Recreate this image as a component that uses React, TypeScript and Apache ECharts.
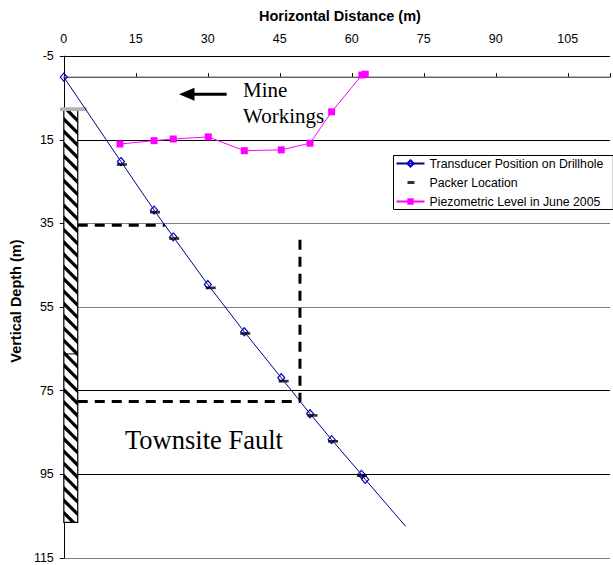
import React, { useEffect, useRef } from 'react';
import * as echarts from 'echarts';

const SANS = 'Arial, "Liberation Sans", sans-serif';
const SERIF = '"Times New Roman", "Liberation Serif", serif';

// ---- data ----
const transducerX = [0, 11.9, 18.8, 22.8, 30.0, 37.6, 45.3, 51.3, 55.8, 62.0, 62.8, 71.2];
const transducerDepth = [0, 20.2, 31.8, 38.2, 49.6, 60.9, 71.9, 80.5, 86.7, 95.0, 96.2, 107.4];

const packerX = [12.1, 19.0, 23.0, 30.6, 37.8, 45.8, 51.8, 56.1, 62.1];
const packerDepth = [20.9, 32.3, 38.6, 50.4, 61.3, 72.7, 80.9, 87.1, 95.3];

const piezoX = [11.7, 18.8, 22.8, 30.1, 37.6, 45.3, 51.3, 55.8, 62.1, 62.8];
const piezoDepth = [16.0, 15.2, 14.8, 14.3, 17.6, 17.4, 15.8, 8.3, -0.5, -0.7];

const xMin = 0, xMax = 113.8, xStep = 15;
const yMin = -5, yMax = 115, yStep = 20;

const groundX = [xMin, xMax];
const groundDepth = [0, 0];

const faultUpperX = [2.9, 21.05];
const faultUpperDepth = [35.4, 35.4];
const faultLowerX = [2.9, 49.2, 49.2];
const faultLowerDepth = [77.6, 77.6, 37.3];

const casingX = [0, 2.9];
const casingDepth = [7.65, 106.5];
const casingJointDepth = 66.2;
const capX = [-0.8, 4.8];

const NAME_T = 'Transducer Position on Drillhole';
const NAME_P = 'Packer Location';
const NAME_Z = 'Piezometric Level in June 2005';

const zip = (xs: number[], ys: number[]) => xs.map((x, i) => [x, ys[i]]);

function clipPoly(pts: number[][], xmin: number, xmax: number, ymin: number, ymax: number) {
  const planes: [number, number, number][] = [
    [0, xmin, 1], [0, xmax, -1], [1, ymin, 1], [1, ymax, -1],
  ];
  let out = pts;
  for (const [k, v, s] of planes) {
    const inp = out;
    out = [];
    if (!inp.length) break;
    for (let i = 0; i < inp.length; i++) {
      const a = inp[i];
      const b = inp[(i + 1) % inp.length];
      const ain = s * (a[k] - v) >= 0;
      const bin = s * (b[k] - v) >= 0;
      if (ain) out.push(a);
      if (ain !== bin) {
        const t = (v - a[k]) / (b[k] - a[k]);
        out.push([a[0] + t * (b[0] - a[0]), a[1] + t * (b[1] - a[1])]);
      }
    }
  }
  return out;
}

const packerIcon =
  'image://data:image/svg+xml;charset=utf-8,' +
  encodeURIComponent(
    '<svg xmlns="http://www.w3.org/2000/svg" width="28" height="8" viewBox="0 0 28 8"><rect x="11" y="2.5" width="7" height="3" fill="#000"/></svg>'
  );

export default function App() {
  const ref = useRef<HTMLDivElement>(null);

  useEffect(() => {
    if (!ref.current) return;
    const chart = echarts.init(ref.current, undefined, { renderer: 'svg' });

    const renderCasing = (params: any, api: any) => {
      const tl = api.coord([casingX[0], casingDepth[0]]);
      const br = api.coord([casingX[1], casingDepth[1]]);
      const jt = api.coord([casingX[0], casingJointDepth]);
      const cl = api.coord([capX[0], casingDepth[0]]);
      const cr = api.coord([capX[1], casingDepth[0]]);
      const x0 = tl[0], x1 = br[0], y0 = tl[1], y1 = br[1];
      const w = x1 - x0;
      const children: any[] = [
        { type: 'rect', shape: { x: x0, y: y0, width: w, height: y1 - y0 }, style: { fill: '#fff' } },
      ];
      for (let t = y0 - w - 3; t < y1; t += 12.3) {
        const poly = clipPoly([[x0, t], [x1, t + w], [x1, t + w + 4.6], [x0, t + 4.6]], x0, x1, y0, y1);
        if (poly.length >= 3) children.push({ type: 'polygon', shape: { points: poly }, style: { fill: '#000' } });
      }
      children.push({
        type: 'rect', shape: { x: x0, y: y0, width: w, height: y1 - y0 },
        style: { fill: 'none', stroke: '#000', lineWidth: 1.2 },
      });
      children.push({
        type: 'line', shape: { x1: x0, y1: jt[1], x2: x1, y2: jt[1] },
        style: { stroke: '#000', lineWidth: 1 },
      });
      children.push({
        type: 'rect', shape: { x: cl[0], y: cl[1] - 1.8, width: cr[0] - cl[0], height: 3.6 },
        style: { fill: '#b4b4b4' },
      });
      return { type: 'group', children };
    };

    const option: any = {
      animation: false,
      backgroundColor: '#fff',
      textStyle: { fontFamily: SANS },
      grid: { left: 63.3, top: 56.2, width: 549.7, height: 501.8, containLabel: false },
      xAxis: {
        type: 'value', position: 'top', min: xMin, max: xMax, interval: xStep,
        name: 'Horizontal Distance (m)', nameLocation: 'middle', nameGap: 32.5,
        nameTextStyle: { fontWeight: 'bold', fontSize: 14.5, fontFamily: SANS, color: '#000', padding: [0, 0, 0, 6] },
        axisLine: { show: true, lineStyle: { color: '#000', width: 1 } },
        axisTick: { show: true, inside: false, length: 4, lineStyle: { color: '#000' } },
        axisLabel: {
          fontSize: 12.5, fontFamily: SANS, color: '#000', margin: 11,
          formatter: (v: number) => (Math.abs(v % xStep) > 1e-6 ? '' : String(v)),
        },
        splitLine: { show: false },
      },
      yAxis: {
        type: 'value', inverse: true, min: yMin, max: yMax, interval: yStep,
        name: 'Vertical Depth (m)', nameLocation: 'middle', nameGap: 37,
        nameTextStyle: { fontWeight: 'bold', fontSize: 14.5, fontFamily: SANS, color: '#000', padding: [0, 0, 0, 12] },
        axisLine: { show: true, lineStyle: { color: '#000', width: 1 } },
        axisTick: { show: true, inside: false, length: 4, lineStyle: { color: '#000' } },
        axisLabel: { fontSize: 12.5, fontFamily: SANS, color: '#000', margin: 10 },
        splitLine: {
          show: true,
          lineStyle: { color: ['#000', '#000', '#808080', '#808080', '#000', '#000', '#808080'], width: 1 },
        },
      },
      legend: {
        orient: 'vertical', left: 393.5, top: 155.5,
        itemWidth: 28, itemHeight: 8, itemGap: 7,
        padding: [2, 10, 2, 2],
        borderColor: '#000', borderWidth: 1, backgroundColor: '#fff',
        textStyle: { fontFamily: SANS, fontSize: 12.3, color: '#000', lineHeight: 12 },
        data: [{ name: NAME_T }, { name: NAME_P, icon: packerIcon }, { name: NAME_Z }],
      },
      series: [
        {
          name: 'ground', type: 'line', data: zip(groundX, groundDepth), symbol: 'none', silent: true,
          lineStyle: { color: '#808080', width: 1.3 }, z: 1,
        },
        {
          name: 'casing', type: 'custom', renderItem: renderCasing, data: [[casingX[0], casingDepth[0]]],
          silent: true, z: 2, clip: false,
        },
        {
          name: 'faultUpper', type: 'line', data: zip(faultUpperX, faultUpperDepth), symbol: 'none', silent: true,
          lineStyle: { color: '#000', width: 3, type: [10, 7] }, z: 3,
        },
        {
          name: 'faultLower', type: 'line', data: zip(faultLowerX, faultLowerDepth), symbol: 'none', silent: true,
          lineStyle: { color: '#000', width: 3, type: [10, 7] }, z: 3,
        },
        {
          name: NAME_T, type: 'line',
          data: transducerX.map((x, i) => {
            const item: any = { value: [x, transducerDepth[i]] };
            if (i === transducerX.length - 1) item.symbol = 'none';
            return item;
          }),
          symbol: 'diamond', symbolSize: [7, 8], showAllSymbol: true,
          lineStyle: { color: '#000080', width: 1 },
          itemStyle: { color: 'rgba(255,255,255,0)', borderColor: '#0000cc', borderWidth: 1.2 },
          z: 5,
        },
        {
          name: NAME_P, type: 'scatter', data: zip(packerX, packerDepth),
          symbol: 'rect', symbolSize: [10, 2.7],
          itemStyle: { color: '#000' }, z: 6,
        },
        {
          name: NAME_Z, type: 'line', data: zip(piezoX, piezoDepth),
          symbol: 'rect', symbolSize: 7, showAllSymbol: true,
          lineStyle: { color: '#ff00ff', width: 1 },
          itemStyle: { color: '#ff00ff' }, z: 5,
        },
      ],
      graphic: [
        {
          type: 'text', x: 243, y: 89.5,
          style: { text: 'Mine', font: `21px ${SERIF}`, fill: '#000', textAlign: 'left', textVerticalAlign: 'middle' },
        },
        {
          type: 'text', x: 243, y: 116.2,
          style: { text: 'Workings', font: `21px ${SERIF}`, fill: '#000', textAlign: 'left', textVerticalAlign: 'middle' },
        },
        {
          type: 'line', shape: { x1: 192, y1: 94.3, x2: 226.7, y2: 94.3 },
          style: { stroke: '#000', lineWidth: 3 },
        },
        {
          type: 'polygon', shape: { points: [[179, 94.3], [194.5, 87.8], [194.5, 100.8]] },
          style: { fill: '#000' },
        },
        {
          type: 'text', x: 125, y: 439.5,
          style: { text: 'Townsite Fault', font: `26.5px ${SERIF}`, fill: '#000', textAlign: 'left', textVerticalAlign: 'middle' },
        },
      ],
    };

    chart.setOption(option);
    return () => chart.dispose();
  }, []);

  return (
    <div
      ref={ref}
      style={{ position: 'absolute', left: 0, top: 0, width: 613, height: 565, background: '#fff' }}
    />
  );
}
